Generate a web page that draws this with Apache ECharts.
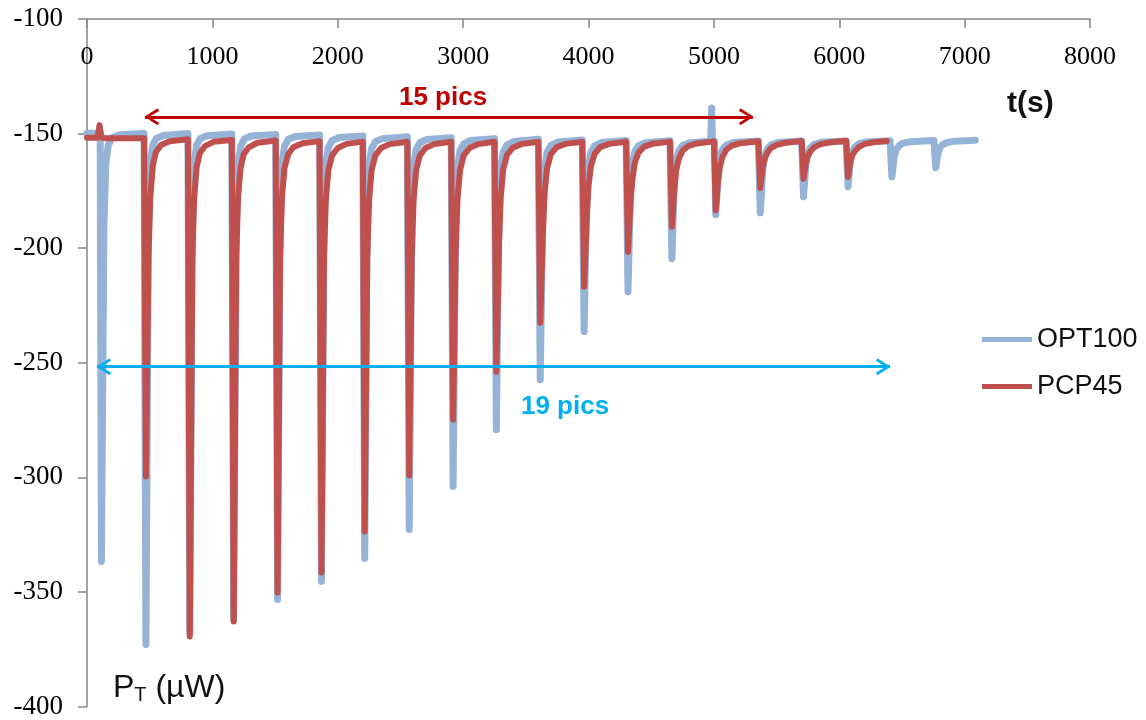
<!DOCTYPE html>
<html><head><meta charset="utf-8">
<script src="https://cdn.jsdelivr.net/npm/echarts@6/dist/echarts.min.js"></script>
<style>html,body{margin:0;padding:0;background:#fff}#c{width:1146px;height:720px}</style>
</head><body><div id="c"></div>
<script>
const seriesNames = ['OPT100', 'PCP45'];
const xTicks = [0, 1000, 2000, 3000, 4000, 5000, 6000, 7000, 8000];
const yTicks = [-100, -150, -200, -250, -300, -350, -400];

const opt100 = [
[0,-149.8],[105,-149.8],[115,-336.7],[135,-190],[150,-163],[170,-155],[200,-151.8],[260,-150.5],[455,-150],
[460,-150],[470,-372.9],[490,-190],[505,-163],[525,-155],[555,-152],[610,-150.8],[805,-150],
[810,-150],[820,-368],[840,-190],[855,-163],[875,-155],[905,-152],[960,-150.9],[1155,-150.2],
[1160,-150.2],[1170,-362],[1190,-190],[1205,-163.5],[1225,-155.5],[1255,-152.3],[1310,-151.1],[1505,-150.4],
[1510,-150.4],[1520,-353.3],[1540,-190],[1555,-163.5],[1575,-155.5],[1605,-152.5],[1660,-151.3],[1855,-150.6],
[1860,-150.6],[1870,-345.4],[1890,-190],[1905,-164],[1925,-156],[1955,-153],[2010,-151.7],[2200,-151],
[2205,-151],[2215,-335.4],[2235,-190],[2250,-164],[2270,-156.5],[2300,-153.5],[2355,-152.2],[2555,-151.4],
[2560,-151.4],[2570,-322.8],[2590,-190],[2605,-164.5],[2625,-157],[2655,-154],[2710,-152.6],[2905,-151.8],
[2910,-151.8],[2920,-304],[2940,-190],[2955,-165],[2975,-157.5],[3005,-154.5],[3060,-153],[3250,-152.2],
[3255,-152.2],[3265,-279.2],[3285,-188],[3300,-165],[3320,-158],[3350,-155],[3405,-153.4],[3600,-152.5],
[3605,-152.5],[3615,-257.4],[3635,-185],[3650,-165],[3670,-158],[3700,-155.2],[3755,-153.7],[3950,-152.8],
[3955,-152.8],[3965,-236.4],[3985,-180],[4000,-164],[4020,-158],[4050,-155.3],[4105,-153.9],[4300,-153],
[4305,-153],[4315,-219],[4335,-176],[4350,-163],[4370,-157.8],[4400,-155.3],[4455,-154],[4650,-153.1],
[4655,-153.1],[4665,-204.6],[4685,-171],[4700,-162],[4720,-157.5],[4750,-155.2],[4805,-154],[4975,-153.3],
[4982,-138.8],[4989,-153.3],
[5005,-153.3],[5015,-185.4],[5035,-166],[5050,-160],[5070,-156.8],[5100,-155],[5155,-153.9],[5355,-153.2],
[5360,-153.2],[5370,-184.6],[5390,-166],[5405,-160],[5425,-156.8],[5455,-155],[5510,-153.9],[5700,-153.2],
[5705,-153.2],[5715,-177.6],[5735,-163],[5750,-158.5],[5770,-156.2],[5800,-154.7],[5855,-153.8],[6055,-153.2],
[6060,-153.2],[6070,-173.2],[6090,-161],[6105,-157.8],[6125,-155.8],[6155,-154.5],[6210,-153.7],[6405,-153.1],
[6410,-153.1],[6420,-168.9],[6440,-159.5],[6455,-157],[6475,-155.4],[6505,-154.3],[6560,-153.6],[6755,-153],
[6760,-153],[6770,-164.9],[6790,-158],[6805,-156],[6825,-154.8],[6855,-154],[6910,-153.4],[7085,-152.9]
];

const pcp45 = [
[0,-151.8],[85,-151.8],[100,-146.3],[115,-151.6],[140,-152],[455,-152],
[460,-152],[470,-299.6],[490,-205],[505,-178],[525,-164],[550,-158],[590,-155],[660,-153.3],[805,-152.5],
[810,-152.5],[820,-369.4],[840,-205],[855,-178],[875,-164.5],[900,-158.5],[940,-155.5],[1010,-153.6],[1155,-152.8],
[1160,-152.8],[1170,-362.9],[1190,-205],[1205,-178],[1225,-165],[1250,-159],[1290,-156],[1360,-154],[1505,-153],
[1510,-153],[1520,-350.2],[1540,-205],[1555,-178],[1575,-165],[1605,-159],[1645,-156],[1720,-154.2],[1855,-153.3],
[1860,-153.3],[1870,-341.5],[1890,-205],[1905,-179],[1925,-166],[1955,-159.5],[2000,-156.3],[2070,-154.5],[2200,-153.5],
[2205,-153.5],[2215,-323.6],[2235,-205],[2250,-179],[2270,-166],[2300,-159.5],[2345,-156.3],[2415,-154.6],[2555,-153.6],
[2560,-153.6],[2570,-299.2],[2590,-205],[2605,-179],[2625,-166],[2655,-159.5],[2700,-156.3],[2770,-154.6],[2905,-153.6],
[2910,-153.6],[2920,-274.8],[2940,-203],[2955,-179],[2975,-166],[3005,-159.5],[3050,-156.3],[3120,-154.6],[3250,-153.6],
[3255,-153.6],[3265,-253.9],[3285,-200],[3300,-178],[3320,-165.5],[3350,-159.3],[3395,-156.2],[3465,-154.6],[3600,-153.6],
[3605,-153.6],[3615,-232.5],[3635,-195],[3650,-176],[3670,-165],[3700,-159],[3745,-156],[3815,-154.5],[3950,-153.6],
[3955,-153.6],[3965,-216.8],[3985,-188],[4000,-173],[4020,-164],[4050,-158.7],[4095,-155.9],[4165,-154.5],[4300,-153.6],
[4305,-153.6],[4315,-201.6],[4335,-180],[4350,-170],[4370,-162.5],[4400,-158.2],[4445,-155.7],[4515,-154.4],[4650,-153.5],
[4655,-153.5],[4665,-190.7],[4685,-174],[4700,-166],[4720,-161],[4750,-157.5],[4795,-155.5],[4865,-154.3],[5000,-153.4],
[5005,-153.4],[5015,-183.5],[5035,-170],[5050,-164],[5070,-160],[5100,-157],[5145,-155.2],[5215,-154.2],[5355,-153.3],
[5360,-153.3],[5370,-173.7],[5390,-164.5],[5405,-161],[5425,-158.5],[5455,-156.3],[5500,-154.9],[5570,-154],[5700,-153.2],
[5705,-153.2],[5715,-169.7],[5735,-162.5],[5750,-159.8],[5770,-157.8],[5800,-156],[5845,-154.7],[5915,-153.9],[6055,-153.1],
[6060,-153.1],[6070,-168.9],[6090,-162],[6105,-159.5],[6125,-157.6],[6155,-155.9],[6200,-154.6],[6270,-153.8],[6380,-153.2]
];

// annotations (data coordinates)
const redArrow = [[463, -142.7], [5312, -142.7]];
const blueArrow = [[80, -251.7], [6405, -251.7]];
const redLabel = {text: '15 pics', at: [2840, -134.4]};
const blueLabel = {text: '19 pics', at: [3813, -269.1]};

const chevron = 'path://M5,0L5.01,0L5,0.01Z M0,20 L5,10 L10,20 L8.4,21 L5,13.6 L1.6,21 Z';

const chart = echarts.init(document.getElementById('c'), null, {renderer: 'canvas'});
const serif = 'Liberation Serif';
const sans = 'Liberation Sans';
const axisGray = '#868686';

chart.setOption({
  animation: false,
  backgroundColor: '#fff',
  grid: {left: 87, right: 56, top: 19, bottom: 13, containLabel: false},
  legend: {
    orient: 'vertical', left: 982, top: 326, itemGap: 20, padding: 0,
    icon: 'rect', itemWidth: 50, itemHeight: 5,
    textStyle: {fontFamily: sans, fontSize: 27, lineHeight: 27, color: '#111'},
    data: seriesNames
  },
  xAxis: {
    type: 'value', position: 'top', min: xTicks[0], max: xTicks[xTicks.length - 1], interval: 1000,
    axisLine: {lineStyle: {color: axisGray, width: 1.5}},
    axisTick: {inside: true, length: 9, lineStyle: {color: axisGray, width: 1.5}},
    axisLabel: {inside: true, margin: 25, fontFamily: serif, fontSize: 26, color: '#000',
      formatter: v => String(v)},
    splitLine: {show: false}
  },
  yAxis: {
    type: 'value', min: yTicks[yTicks.length - 1], max: yTicks[0], interval: 50,
    axisLine: {show: true, lineStyle: {color: axisGray, width: 1.5}},
    axisTick: {show: true, length: 9, lineStyle: {color: axisGray, width: 1.5}},
    axisLabel: {margin: 24, fontFamily: serif, fontSize: 27, color: '#000', formatter: v => String(v)},
    splitLine: {show: false}
  },
  series: [
    {
      name: seriesNames[0], type: 'line', data: opt100, showSymbol: false, symbol: 'none',
      lineStyle: {color: '#95B3D7', width: 7, join: 'round', cap: 'round'}, itemStyle: {color: '#95B3D7'},
      z: 2
    },
    {
      name: seriesNames[1], type: 'line', data: pcp45, showSymbol: false, symbol: 'none',
      lineStyle: {color: '#C0504D', width: 6, join: 'round', cap: 'round'}, itemStyle: {color: '#C0504D'},
      z: 3,
      markLine: {
        silent: true, animation: false,
        symbol: [chevron, chevron], symbolSize: [17, 28],
        label: {show: false},
        data: [
          [{coord: redArrow[0], lineStyle: {color: '#C00000', width: 3, type: 'solid'}, itemStyle: {color: '#C00000'}},
           {coord: redArrow[1]}],
          [{coord: blueArrow[0], lineStyle: {color: '#00B0F0', width: 3, type: 'solid'}, itemStyle: {color: '#00B0F0'}},
           {coord: blueArrow[1]}]
        ]
      },
      markPoint: {
        silent: true, animation: false, symbol: 'circle', symbolSize: 0,
        data: [
          {coord: redLabel.at, label: {show: true, formatter: redLabel.text, position: 'inside',
            fontFamily: sans, fontWeight: 'bold', fontSize: 26, color: '#C00000'}},
          {coord: blueLabel.at, label: {show: true, formatter: blueLabel.text, position: 'inside',
            fontFamily: sans, fontWeight: 'bold', fontSize: 26, color: '#00B0F0'}}
        ]
      }
    }
  ],
  graphic: [
    {type: 'text', left: 1007, top: 89,
      style: {text: 't(s)', fontFamily: sans, fontWeight: 'bold', fontSize: 30, fill: '#111'}},
    {type: 'text', left: 113, top: 672,
      style: {text: '{a|P}{b|T}{a| (µW)}', fontFamily: sans, fill: '#111',
        rich: {a: {fontFamily: sans, fontSize: 32, color: '#111'},
               b: {fontFamily: sans, fontSize: 20, color: '#111', padding: [14, 0, 0, 0]}}}}
  ]
});
</script></body></html>
